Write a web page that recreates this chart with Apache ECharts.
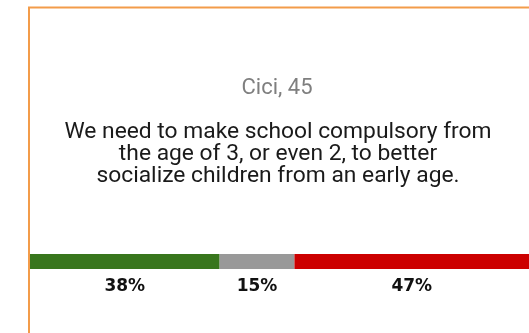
<!DOCTYPE html>
<html>
<head>
<meta charset="utf-8">
<script src="https://cdn.jsdelivr.net/npm/echarts@6/dist/echarts.min.js"></script>
<style>html,body{margin:0;padding:0;background:#fff;}#chart{width:529px;height:333px;}</style>
</head>
<body>
<div id="chart"></div>
<script>
const speaker = "Cici, 45";
const quoteLines = ["We need to make school compulsory from", "the age of 3, or even 2, to better", "socialize children from an early age."];
const categories = ["Response"];
const segmentNames = ["Agree", "Neutral", "Disagree"];
const segmentValues = [38, 15, 47];
const segmentColors = ["#38761d", "#999999", "#cc0000"];

const chart = echarts.init(document.getElementById('chart'), null, {renderer: 'canvas'});
const series = segmentNames.map((name, i) => ({
  name: name,
  type: 'bar',
  stack: 'total',
  barWidth: 15,
  data: [segmentValues[i]],
  itemStyle: {color: segmentColors[i]},
  label: {
    show: true,
    position: 'bottom',
    distance: 9,
    formatter: '{c}%',
    color: '#111',
    fontFamily: 'DejaVu Sans',
    fontWeight: 'bold',
    fontSize: 17
  }
}));

chart.setOption({
  animation: false,
  backgroundColor: '#fff',
  grid: {left: 30, right: 0, top: 254, height: 15},
  xAxis: {type: 'value', min: 0, max: 100, show: false},
  yAxis: {type: 'category', data: categories, show: false},
  series: series,
  graphic: [
    {type: 'rect', shape: {x: 29, y: 7.5, width: 560, height: 400}, style: {fill: 'none', stroke: '#f39c4a', lineWidth: 2}, z: 0},
    {type: 'text', x: 277, y: 88, style: {text: speaker, fill: '#7f7f7f', font: '22px Roboto', textAlign: 'center', textVerticalAlign: 'middle'}},
    {type: 'text', x: 278, y: 154, style: {text: quoteLines.join('\n'), fill: '#1a1a1a', font: '22.8px Roboto', lineHeight: 22, textAlign: 'center', textVerticalAlign: 'middle'}}
  ]
});
</script>
</body>
</html>
